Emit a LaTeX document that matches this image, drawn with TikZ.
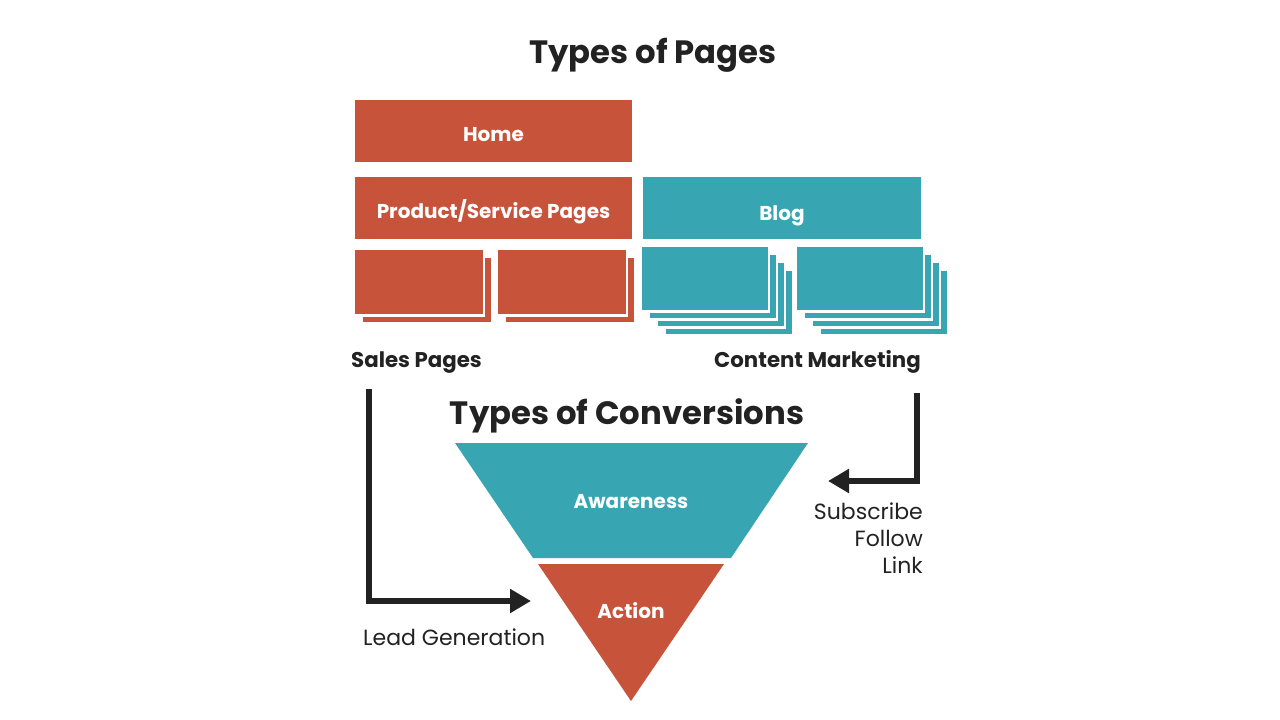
\documentclass[tikz,border=0pt]{standalone}
\usepackage{fontspec}
\setmainfont{Poppins}
\usetikzlibrary{arrows.meta}
\definecolor{pgred}{HTML}{C6533A}
\definecolor{pgteal}{HTML}{38A5B2}
\definecolor{arrowdark}{HTML}{222222}
\definecolor{txtdark}{HTML}{222222}
\tikzset{
  redbox/.style={fill=pgred, draw=none},
  tealbox/.style={fill=pgteal, draw=none},
  gapbox/.style={fill=white, draw=none},
  boxlabel/.style={text=white, anchor=base, inner sep=0pt, font=\bfseries\fontsize{20}{24}\selectfont},
  title/.style={text=txtdark, anchor=base, inner sep=0pt, font=\bfseries\fontsize{32.3}{38}\selectfont},
  grouplabel/.style={text=txtdark, inner sep=0pt, font=\bfseries\fontsize{21.3}{24}\selectfont},
  plainlabel/.style={text=txtdark, inner sep=0pt, font=\fontsize{22}{27}\selectfont},
  flowarrow/.style={draw=arrowdark, line width=5.5pt, -{Triangle[length=21pt,width=23pt]}},
}
\begin{document}
\begin{tikzpicture}[x=1pt,y=-1pt]
\useasboundingbox[fill=white] (0,0) rectangle (1280,720);

% Title
\node[title] (t1) at (653,63) {Types of Pages};

% Big boxes
\fill[redbox] (355,100) rectangle (632,162);
\node[boxlabel] (home) at (493.5,141) {Home};
\fill[redbox] (355,177) rectangle (632,239);
\node[boxlabel] (prod) at (493.5,218) {Product/Service Pages};
\fill[tealbox] (643,177) rectangle (921,239);
\node[boxlabel] (blog) at (782,220) {Blog};

% Sales small pages (with one shadow)
\foreach \x in {355,498}{
  \fill[redbox] (\x+8,258) rectangle (\x+136,322);
  \fill[gapbox] (\x-2,248) rectangle (\x+130,317);
  \fill[redbox] (\x,250) rectangle (\x+128,314);
}

% Content small pages (with three shadows)
\foreach \x in {642,797}{
  \foreach \k in {3,2,1}{
    \fill[tealbox] (\x+8*\k,247+8*\k) rectangle (\x+126+8*\k,310+8*\k);
    \fill[gapbox] (\x-2+8*\k-8,245+8*\k-8) rectangle (\x+128+8*\k-8,313+8*\k-8);
  }
  \fill[tealbox] (\x,247) rectangle (\x+126,310);
}

% Group labels
\node[grouplabel, anchor=base west] (sales) at (351,367) {Sales Pages};
\node[grouplabel, anchor=base east] (content) at (921,367) {Content Marketing};

% Conversions title
\node[title] (t2) at (627,424) {Types of Conversions};

% Funnel
\fill[tealbox] (455,443) -- (808,443) -- (731,558) -- (533,558) -- cycle;
\node[boxlabel] (aware) at (631,508) {Awareness};
\fill[redbox] (538,564) -- (724,564) -- (631,701) -- cycle;
\node[boxlabel] (action) at (631,618) {Action};

% Arrows
\coordinate (lstart) at (369,389);
\coordinate (lend) at (531,601);
\draw[flowarrow] (lstart) |- (lend);
\node[plainlabel, anchor=base west] (lead) at (363,645) {Lead Generation};

\coordinate (rstart) at (917,393);
\coordinate (rend) at (828,481);
\draw[flowarrow] (rstart) |- (rend);
\node[plainlabel, anchor=base east, align=right] (subs1) at (923,519) {Subscribe};
\node[plainlabel, anchor=base east] (subs2) at (923,546) {Follow};
\node[plainlabel, anchor=base east] (subs3) at (923,573) {Link};
\end{tikzpicture}
\end{document}
